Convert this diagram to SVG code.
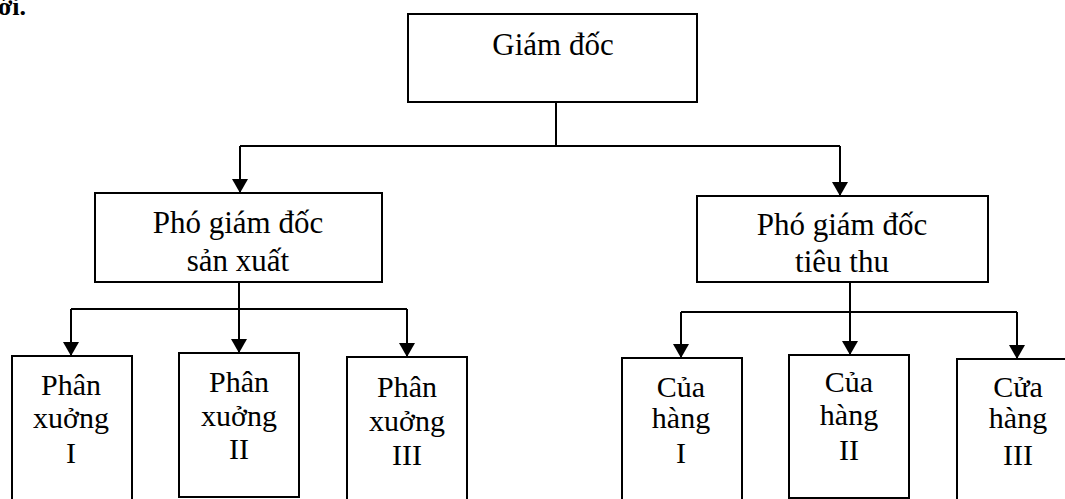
<svg xmlns="http://www.w3.org/2000/svg" width="1065" height="499" viewBox="0 0 1065 499">
<style>
.box{fill:#fff;stroke:#000;stroke-width:2}
.t{font-family:"Liberation Serif","Times New Roman",serif;font-size:31px;fill:#000;text-anchor:middle}
.s{font-family:"Liberation Serif","Times New Roman",serif;font-size:30px;fill:#000;text-anchor:middle}
.c{fill:none;stroke:#000;stroke-width:2}
</style>
<defs>
<marker id="ah" markerUnits="userSpaceOnUse" markerWidth="16" markerHeight="16" refX="14" refY="8" orient="auto">
<path d="M0,0 L14,8 L0,16 Z" fill="#000"/>
</marker>
</defs>
<text x="26" y="15" font-family="Liberation Serif, serif" font-size="26" font-weight="bold" text-anchor="end">dưới.</text>
<g id="connectors">
<path class="c" d="M556,102 V146 M240,146 H840"/>
<path class="c" d="M240,146 V193" marker-end="url(#ah)"/>
<path class="c" d="M840,146 V196" marker-end="url(#ah)"/>
<path class="c" d="M239,282 V309 M71,309 H407"/>
<path class="c" d="M71,309 V356" marker-end="url(#ah)"/>
<path class="c" d="M239,309 V353" marker-end="url(#ah)"/>
<path class="c" d="M407,309 V357" marker-end="url(#ah)"/>
<path class="c" d="M850,282 V312 M681,312 H1017"/>
<path class="c" d="M681,312 V358" marker-end="url(#ah)"/>
<path class="c" d="M850,312 V355" marker-end="url(#ah)"/>
<path class="c" d="M1017,312 V359" marker-end="url(#ah)"/>
</g>
<g id="giam-doc">
<rect class="box" x="408" y="14" width="289" height="88"/>
<text class="t" x="553" y="55">Giám đốc</text>
</g>
<g id="pgd-san-xuat">
<rect class="box" x="95" y="193" width="287" height="89"/>
<text class="t" x="238" y="233">Phó giám đốc</text>
<text class="t" x="238" y="271">sản xuất</text>
</g>
<g id="pgd-tieu-thu">
<rect class="box" x="697" y="196" width="291" height="86"/>
<text class="t" x="842" y="235">Phó giám đốc</text>
<text class="t" x="842" y="272">tiêu thu</text>
</g>
<g id="px1">
<rect class="box" x="12" y="356" width="120" height="160"/>
<text class="s" x="71" y="395">Phân</text>
<text class="s" x="71" y="428">xuởng</text>
<text class="s" x="71" y="463">I</text>
</g>
<g id="px2">
<rect class="box" x="179" y="353" width="120" height="144"/>
<text class="s" x="239" y="392">Phân</text>
<text class="s" x="239" y="426">xuởng</text>
<text class="s" x="239" y="459">II</text>
</g>
<g id="px3">
<rect class="box" x="347" y="357" width="120" height="160"/>
<text class="s" x="407" y="397">Phân</text>
<text class="s" x="407" y="431">xuởng</text>
<text class="s" x="407" y="465">III</text>
</g>
<g id="ch1">
<rect class="box" x="622" y="358" width="120" height="160"/>
<text class="s" x="681" y="397">Của</text>
<text class="s" x="681" y="428">hàng</text>
<text class="s" x="681" y="463">I</text>
</g>
<g id="ch2">
<rect class="box" x="789" y="355" width="120" height="143"/>
<text class="s" x="849" y="392">Của</text>
<text class="s" x="849" y="425">hàng</text>
<text class="s" x="849" y="460">II</text>
</g>
<g id="ch3">
<rect class="box" x="957" y="359" width="120" height="160"/>
<text class="s" x="1018" y="397">Cửa</text>
<text class="s" x="1018" y="428">hàng</text>
<text class="s" x="1018" y="465">III</text>
</g>
</svg>
